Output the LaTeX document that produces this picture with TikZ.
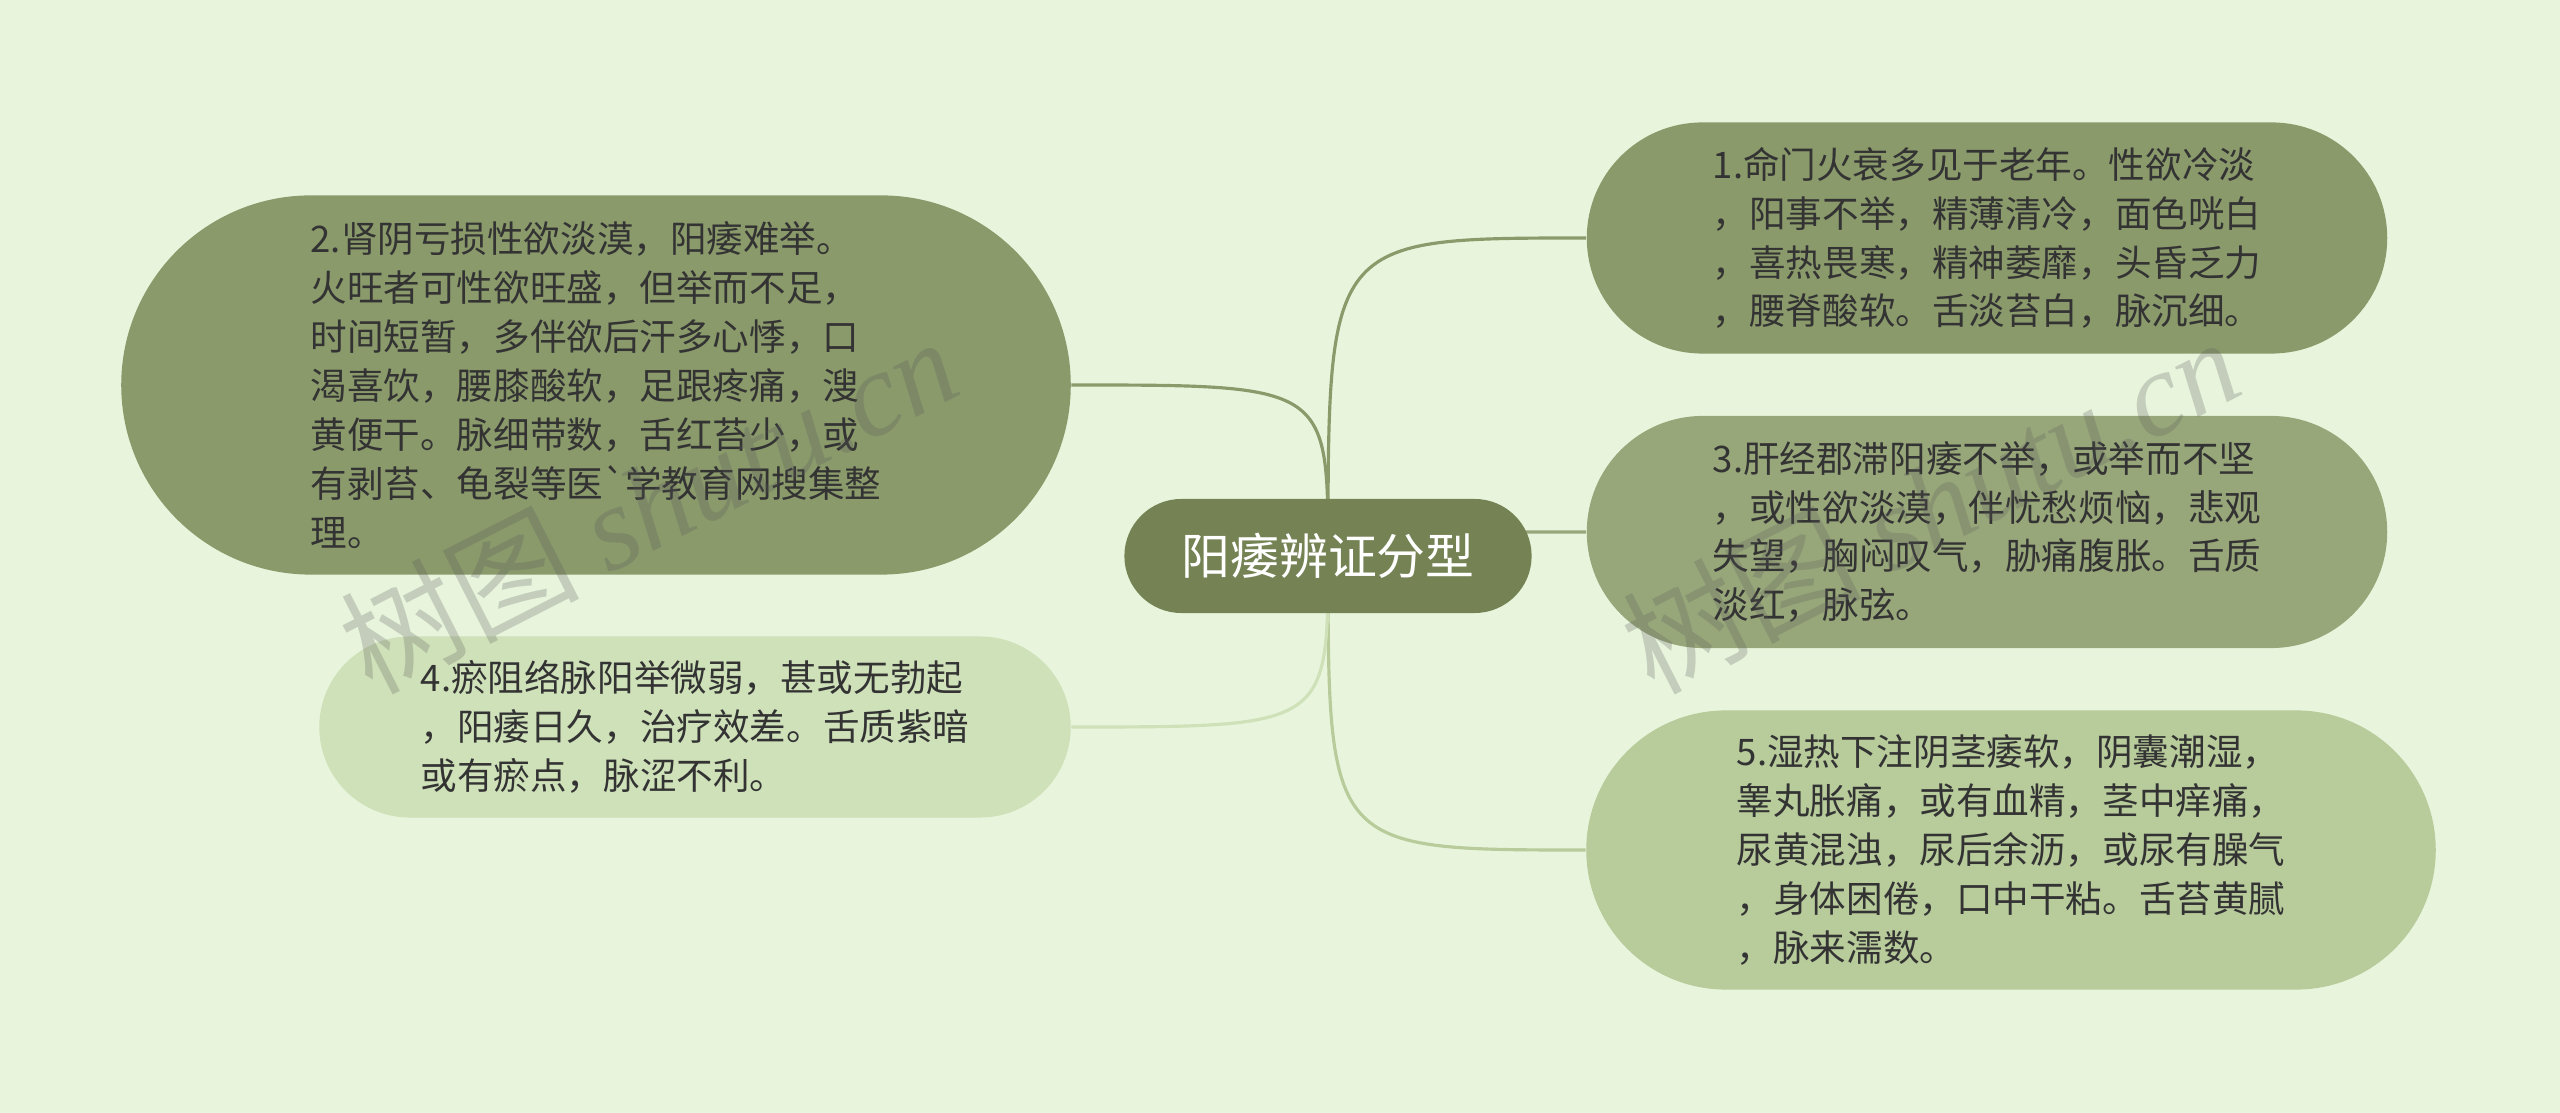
\documentclass[tikz,border=0pt]{standalone}
\usepackage{fontspec}
\newfontfamily\cjk{Noto Sans CJK SC}
\newfontfamily\wmserif{Liberation Serif}

\definecolor{bgcol}{HTML}{E8F5DC}
\definecolor{rootcol}{HTML}{748254}
\definecolor{darkcol}{HTML}{8A9A6B}
\definecolor{midcol}{HTML}{98A77A}
\definecolor{lightcol}{HTML}{B7CB9B}
\definecolor{palecol}{HTML}{CFE1B9}
\definecolor{txtcol}{HTML}{333333}

\pgfdeclarelayer{back}
\pgfdeclarelayer{links}
\pgfsetlayers{back,links,main}

\begin{document}
\begin{tikzpicture}[x=0.01cm,y=-0.01cm,
	topic/.style={rounded corners=#1, align=left, text=txtcol, inner sep=0pt,
		font=\cjk\fontsize{10.4}{13.9}\selectfont},
	link/.style={draw=#1, line width=0.9pt},
	wmark/.style={rotate=27, text=gray!70!black, opacity=0.25, inner sep=0pt}]

	\useasboundingbox (0,0) rectangle (2560,1113);
	\begin{pgfonlayer}{back}
	\fill[bgcol] (0,0) rectangle (2560,1113);
	\end{pgfonlayer}

	% root
	\node[fill=rootcol, rounded corners=0.57cm, minimum width=4.07cm, minimum height=1.14cm,
		text=white, font=\cjk\fontsize{13.9}{16}\selectfont] (root) at (1328,556) {阳痿辨证分型};

	% right side
	\node[topic=1.155cm, fill=darkcol, minimum width=8cm, minimum height=2.31cm] (n1) at (1987,238)
		{1.命门火衰多见于老年。性欲冷淡\\，阳事不举，精薄清冷，面色咣白\\，喜热畏寒，精神萎靡，头昏乏力\\，腰脊酸软。舌淡苔白，脉沉细。};
	\node[topic=1.16cm, fill=midcol, minimum width=8cm, minimum height=2.32cm] (n3) at (1987,532)
		{3.肝经郡滞阳痿不举，或举而不坚\\，或性欲淡漠，伴忧愁烦恼，悲观\\失望，胸闷叹气，胁痛腹胀。舌质\\淡红，脉弦。};
	\node[topic=1.395cm, fill=lightcol, minimum width=8.49cm, minimum height=2.79cm] (n5) at (2011,850)
		{5.湿热下注阴茎痿软，阴囊潮湿，\\睾丸胀痛，或有血精，茎中痒痛，\\尿黄混浊，尿后余沥，或尿有臊气\\，身体困倦，口中干粘。舌苔黄腻\\，脉来濡数。};

	% left side
	\node[topic=1.895cm, fill=darkcol, minimum width=9.49cm, minimum height=3.79cm] (n2) at (596,385)
		{2.肾阴亏损性欲淡漠，阳痿难举。\\火旺者可性欲旺盛，但举而不足，\\时间短暂，多伴欲后汗多心悸，口\\渴喜饮，腰膝酸软，足跟疼痛，溲\\黄便干。脉细带数，舌红苔少，或\\有剥苔、龟裂等医`学教育网搜集整\\理。};
	\node[topic=0.905cm, fill=palecol, minimum width=7.51cm, minimum height=1.81cm] (n4) at (695,727)
		{4.瘀阻络脉阳举微弱，甚或无勃起\\，阳痿日久，治疗效差。舌质紫暗\\或有瘀点，脉涩不利。};

	\begin{pgfonlayer}{links}
	\draw[link=darkcol] (root.center) .. controls (root |- n1.west) .. (n1.west);
	\draw[link=midcol] (root.center) .. controls (root |- n3.west) .. (n3.west);
	\draw[link=lightcol] (root.center) .. controls (root |- n5.west) .. (n5.west);
	\draw[link=darkcol] (root.center) .. controls (root |- n2.east) .. (n2.east);
	\draw[link=palecol] (root.center) .. controls (root |- n4.east) .. (n4.east);
	\end{pgfonlayer}

	% watermarks
	\node[wmark] (wm1) at (648,503) {\fontsize{34}{34}\selectfont\cjk 树图 \wmserif\itshape shutu.cn};
	\node[wmark] (wm2) at (1930,503) {\fontsize{34}{34}\selectfont\cjk 树图 \wmserif\itshape shutu.cn};

\end{tikzpicture}
\end{document}
